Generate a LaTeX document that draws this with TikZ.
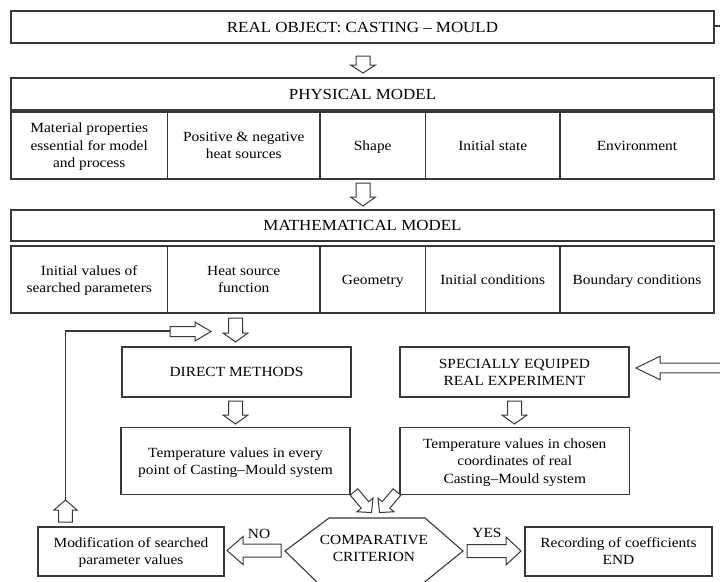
\documentclass[tikz,border=0pt]{standalone}
\usepackage{fontspec}
\setmainfont{Liberation Serif}[FakeStretch=1.1]
\begin{document}
\begin{tikzpicture}[x=1pt,y=-1pt,
  box/.style={draw=black!78,line width=1.2pt,inner sep=0pt,align=center,
    font=\fontsize{14}{17.3}\selectfont,text=black},
  hdr/.style={box,font=\fontsize{15.4}{18}\selectfont,text height=10.2pt,text depth=0pt},
  l1/.style={text height=9.4pt,text depth=0pt},
  l2/.style={text height=26.7pt,text depth=0pt},
  l3/.style={text height=44pt,text depth=0pt},
  lbl/.style={inner sep=0pt,font=\fontsize{14}{17}\selectfont},
  arr/.style={draw=black!78,line width=1pt,fill=white,line join=miter},
  lnk/.style={draw=black!78,line width=1.1pt},
  pics/barrow/.style n args={4}{code={
    \path[arr] (0,-#2) -- (#1-#4,-#2) -- (#1-#4,-#3) -- (#1,0) -- (#1-#4,#3)
      -- (#1-#4,#2) -- (0,#2) -- cycle;}}]
\useasboundingbox (0,0) rectangle (720,581);
\clip (0,0) rectangle (720,581);
% top
\node[hdr,minimum width=703pt,minimum height=32pt] (top) at (362.5,27) {REAL OBJECT: CASTING -- MOULD};
% physical model
\node[hdr,minimum width=703pt,minimum height=32pt] (phys) at (362.5,94) {PHYSICAL MODEL};
\node[box,l3,minimum width=156.5pt,minimum height=67pt] (p1) at (89.25,145.5) {Material properties\\essential for model\\and process};
\node[box,l2,minimum width=152.5pt,minimum height=67pt] (p2) at (243.75,145.5) {Positive \& negative\\heat sources};
\node[box,l1,minimum width=105.5pt,minimum height=67pt] (p3) at (372.75,145.5) {Shape};
\node[box,l1,minimum width=134.5pt,minimum height=67pt] (p4) at (492.75,145.5) {Initial state};
\node[box,l1,minimum width=154pt,minimum height=67pt] (p5) at (637,145.5) {Environment};
% mathematical model
\node[hdr,minimum width=703pt,minimum height=31pt] (math) at (362.5,225.5) {MATHEMATICAL MODEL};
\node[box,l2,minimum width=156.5pt,minimum height=67pt] (m1) at (89.25,279.5) {Initial values of\\searched parameters};
\node[box,l2,minimum width=152.5pt,minimum height=67pt] (m2) at (243.75,279.5) {Heat source\\function};
\node[box,l1,minimum width=105.5pt,minimum height=67pt] (m3) at (372.75,279.5) {Geometry};
\node[box,l1,minimum width=134.5pt,minimum height=67pt] (m4) at (492.75,279.5) {Initial conditions};
\node[box,l1,minimum width=154pt,minimum height=67pt] (m5) at (637,279.5) {Boundary conditions};
% methods
\node[box,l1,minimum width=229pt,minimum height=50pt] (direct) at (236.5,372) {DIRECT METHODS};
\node[box,l2,minimum width=229pt,minimum height=50pt] (spec) at (514.5,372) {SPECIALLY EQUIPED\\REAL EXPERIMENT};
\node[box,l2,minimum width=229pt,minimum height=67pt] (tleft) at (235.5,461) {Temperature values in every\\point of Casting--Mould system};
\node[box,l3,minimum width=229.5pt,minimum height=67pt] (tright) at (514.75,461) {Temperature values in chosen\\coordinates of real\\Casting--Mould system};
% bottom row
\node[box,l2,minimum width=186pt,minimum height=49pt] (mod) at (131,551.5) {Modification of searched\\parameter values};
\node[box,l2,minimum width=187pt,minimum height=49pt] (rec) at (618.5,551.5) {Recording of coefficients\\END};
\draw[lnk] (329,518) -- (425,518) -- (463,551) -- (421,585) -- (320,585) -- (285,551) -- cycle;
\node[lbl,align=center,l2] (crit) at (374,548.5) {COMPARATIVE\\CRITERION};
\node[lbl] (no) at (259,534) {NO};
\node[lbl] (yes) at (487,533) {YES};
% connectors
\coordinate (offR) at (724,26);
\coordinate (offA) at (726,368);
\draw[lnk] (top.east |- 0,26) -- (offR);
\coordinate (loopTop) at (65.5,331);
\coordinate (loopBot) at (65.5,500);
\draw[lnk] (loopBot) -- (loopTop) -- (171,331);
% block arrows
\pic[rotate=-90] at (363,56) {barrow={17}{7}{12.5}{8}};
\pic[rotate=-90] at (363,183) {barrow={23}{7}{12.5}{9}};
\pic[rotate=-90] at (235.5,318) {barrow={24}{7}{12.5}{9}};
\pic at (170,331.5) {barrow={41}{5}{9.5}{16}};
\pic[rotate=-90] at (235.5,401) {barrow={23}{7}{12.5}{9}};
\pic[rotate=-90] at (514.5,401) {barrow={23}{7}{12.5}{9}};
\pic[rotate=180] at (offA) {barrow={90}{4.8}{11.7}{24}};
\pic[rotate=90] at (65.5,522) {barrow={22}{6.8}{11.5}{10}};
\pic[rotate=-49.6] at (354,492) {barrow={27}{5}{10.5}{10}};
\pic[rotate=-130.4] at (397,492) {barrow={27}{5}{10.5}{10}};
\pic[rotate=180] at (281,550.5) {barrow={54}{6.5}{14}{16}};
\pic at (467,551) {barrow={54}{6.5}{14}{15}};
\end{tikzpicture}
\end{document}
